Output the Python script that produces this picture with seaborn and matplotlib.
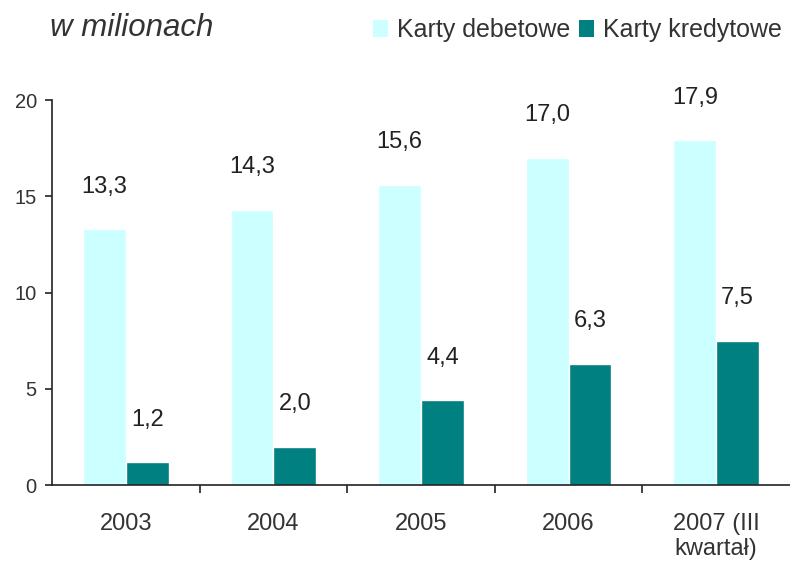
import matplotlib
matplotlib.use("Agg")
import matplotlib.pyplot as plt
import seaborn as sns
import pandas as pd
import numpy as np
from matplotlib.patches import Patch

categories = ["2003", "2004", "2005", "2006", "2007 (III\nkwartał)"]
debit = [13.3, 14.3, 15.6, 17.0, 17.9]
credit = [1.2, 2.0, 4.4, 6.3, 7.5]
series = ["Karty debetowe", "Karty kredytowe"]
colors = ["#ccffff", "#008080"]

sns.set_style("white")
plt.rcParams["font.family"] = ["Liberation Sans", "DejaVu Sans"]

df = pd.DataFrame({
    "cat": categories * 2,
    "val": debit + credit,
    "series": [series[0]] * 5 + [series[1]] * 5,
})

fig = plt.figure(figsize=(7.9, 5.62), dpi=100)
ax = fig.add_axes([0.066, 0.137, 0.934, 0.685])
sns.barplot(data=df, x="cat", y="val", hue="series", palette=colors,
            width=0.58, ax=ax, legend=False, saturation=1)

for cont in ax.containers:
    for bar in cont:
        h = bar.get_height()
        ax.text(bar.get_x() + bar.get_width() / 2, h + 2.2,
                f"{h:.1f}".replace(".", ","), ha="center", va="center",
                fontsize=17, color="#222222")

ax.set_ylim(0, 20)
ax.set_xlim(-0.5, 4.5)
ax.set_yticks([0, 5, 10, 15, 20])
ax.set_xlabel("")
ax.set_ylabel("")
sns.despine(ax=ax)
ax.spines["left"].set_color("#222222")
ax.spines["bottom"].set_color("#222222")
ax.spines["left"].set_linewidth(1.2)
ax.spines["bottom"].set_linewidth(1.2)
ax.tick_params(axis="y", left=True, length=5, width=1.2, color="#222222",
               labelsize=14.5, labelcolor="#333333", pad=6)
ax.set_xticks(range(5))
ax.set_xticklabels(categories, linespacing=1.15)
ax.tick_params(axis="x", bottom=False, labelsize=17, labelcolor="#333333", pad=17)
ax.set_xticks([0.5, 1.5, 2.5, 3.5], minor=True)
ax.tick_params(axis="x", which="minor", bottom=True, length=6, width=1.2,
               color="#222222")

fig.text(0.063, 0.95, "w milionach", fontsize=22.5, style="italic",
         color="#333333", va="center")

handles = [Patch(facecolor=c, edgecolor="none") for c in colors]
fig.legend(handles, series, loc="center right", bbox_to_anchor=(1.018, 0.946),
           ncol=2, frameon=False, fontsize=18, handlelength=0.6,
           handleheight=0.7, handletextpad=0.35, columnspacing=0.35,
           labelcolor="#333333")

fig.savefig("out.png", dpi=100)
